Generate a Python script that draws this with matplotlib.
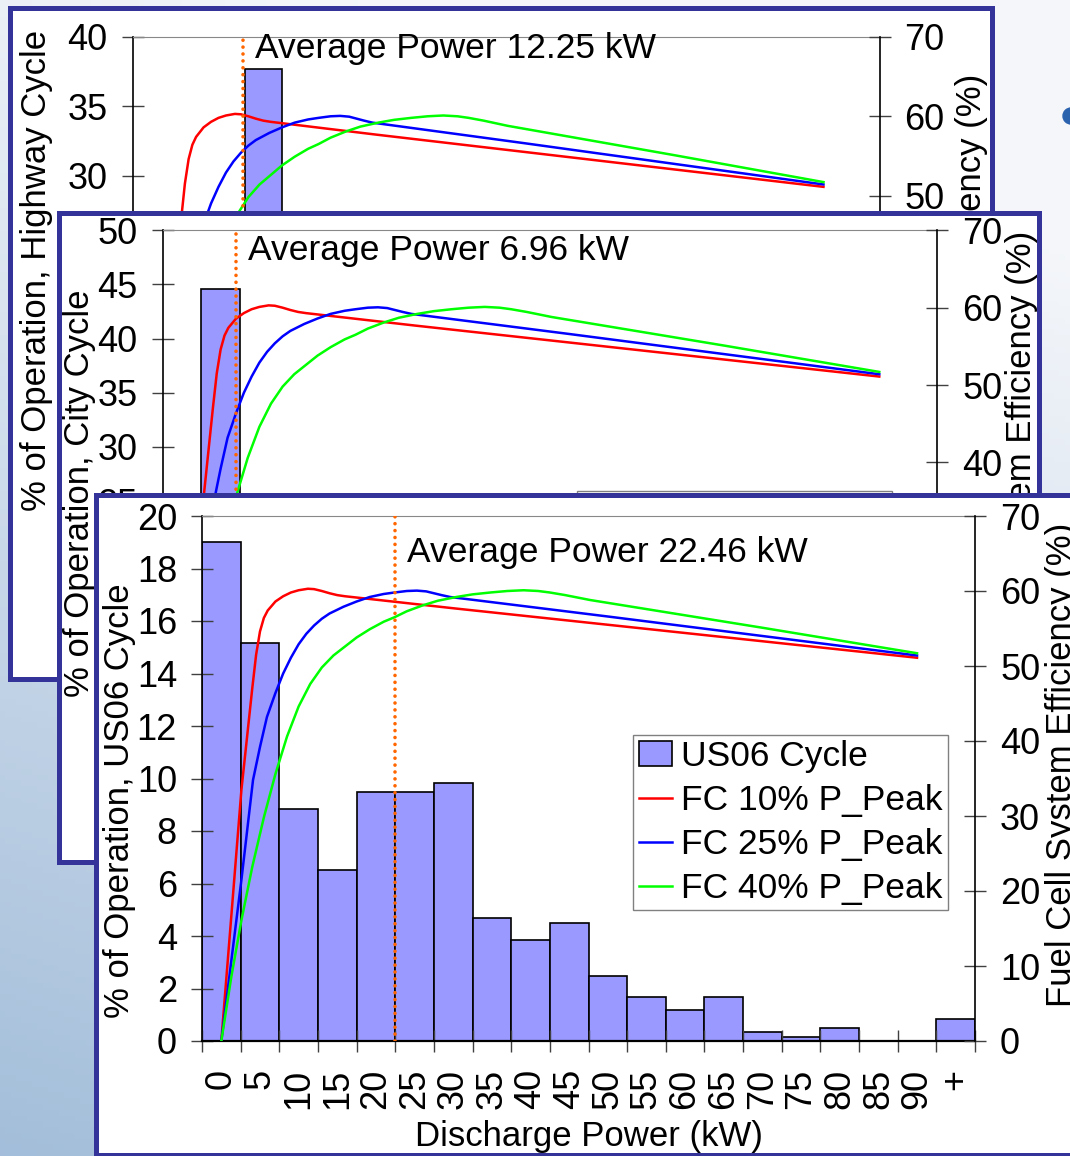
import matplotlib.pyplot as plt
import numpy as np
from matplotlib.patches import Circle
from matplotlib.ticker import NullFormatter

W, H = 1070, 1156
plt.rcParams['font.family'] = ['Liberation Sans', 'DejaVu Sans']

# discharge power bins (kW), last one is "above 90"
bin_labels = ['0', '5', '10', '15', '20', '25', '30', '35', '40', '45',
              '50', '55', '60', '65', '70', '75', '80', '85', '90', '+']
bin_kw = [0, 5, 10, 15, 20, 25, 30, 35, 40, 45,
          50, 55, 60, 65, 70, 75, 80, 85, 90, 95]

# % of operation in each bin
us06_pct = [19.0, 15.15, 8.84, 6.51, 9.50, 9.50, 9.83, 4.68, 3.83, 4.49,
            2.49, 1.67, 1.17, 1.67, 0.33, 0.17, 0.50, 0.0, 0.0, 0.83]
# only the tall bar shows, the rest is behind the next slide panel (rough guesses)
city_pct = [22.0, 44.6, 13.0, 8.0, 4.5, 2.5, 1.5, 0.8, 0.5, 0.3,
            0.2, 0.1, 0.0, 0.0, 0.0, 0.0, 0.0, 0.0, 0.0, 0.0]
highway_pct = [4.0, 7.5, 21.0, 37.7, 17.5, 7.0, 3.0, 1.5, 0.8, 0.0,
               0.0, 0.0, 0.0, 0.0, 0.0, 0.0, 0.0, 0.0, 0.0, 0.0]

highway_avg_kw = 12.25
city_avg_kw = 6.96
us06_avg_kw = 22.46

# fuel cell system efficiency (%) vs power (kW)
fc10_kw = [0, 2.6, 4.0, 4.5, 5.0, 5.5, 6.0, 7.0, 8.0, 9.0, 10.0, 11.2, 12.0, 13.0, 14.0, 15.0, 16.0,
           30, 50, 70, 90]
fc10_eff = [0, 33.5, 47.0, 51.5, 54.6, 56.4, 57.4, 58.6, 59.3, 59.8, 60.1, 60.3, 60.25, 60.0, 59.7,
            59.45, 59.3, 57.7, 55.5, 53.3, 51.1]
fc25_kw = [0, 2.6, 4.1, 5.0, 5.9, 7.0, 8.0, 9.0, 10.0, 11.0, 12.0, 13.0, 14.0, 15.8, 17.5, 19.2,
           21.0, 22.4, 24.0, 25.3, 26.5, 27.5, 28.5, 29.6, 50, 70, 90]
fc25_eff = [0, 21.5, 34.8, 39.2, 43.2, 46.4, 49.0, 51.1, 52.9, 54.3, 55.4, 56.3, 57.0, 57.9, 58.6, 59.2,
            59.6, 59.8, 60.0, 60.05, 59.95, 59.7, 59.45, 59.2, 56.6, 54.0, 51.4]
fc40_kw = [0, 1.3, 2.6, 4.0, 5.5, 7.0, 8.5, 10.0, 11.5, 13.0, 14.5, 16.0, 17.5, 19.2, 21.0, 22.4,
           24.0, 26.1, 28.0, 30.4, 32.5, 34.8, 37.0, 39.1, 41.0, 42.5, 44.5, 47.7, 70, 90]
fc40_eff = [0, 8.6, 16.1, 23.2, 29.8, 35.6, 40.6, 44.6, 47.6, 49.8, 51.4, 52.6, 53.8, 54.9, 55.9, 56.5,
            57.3, 58.1, 58.7, 59.2, 59.55, 59.8, 60.0, 60.1, 60.0, 59.8, 59.45, 58.8, 55.1, 51.7]

curves = [(fc10_kw, fc10_eff, '#ff0000', 'FC 10% P_Peak'),
          (fc25_kw, fc25_eff, '#0000ff', 'FC 25% P_Peak'),
          (fc40_kw, fc40_eff, '#00ff00', 'FC 40% P_Peak')]

BORDER = '#333399'
BAR = '#9999ff'
ORANGE = '#ff6600'
TICK = '#404040'

fig = plt.figure(figsize=(W / 100, H / 100), dpi=100)


def px(l, t, r, b):
    return [l / W, 1 - b / H, (r - l) / W, (b - t) / H]


# slide background
bg = fig.add_axes([0, 0, 1, 1], zorder=0)
yy, xx = np.mgrid[0:1:200j, 0:1:200j]
t = np.clip(0.9 * yy + 0.3 * (1 - xx) - 0.2, 0, 1)[..., None]
c_top = np.array([0.957, 0.965, 0.98])
c_bot = np.array([0.64, 0.745, 0.855])
bg.imshow(c_top + t * (c_bot - c_top), extent=(0, W, H, 0), aspect='auto')
bg.add_patch(Circle((1071, 116), 8, color='#2b62ae'))
bg.set_xlim(0, W)
bg.set_ylim(H, 0)
bg.axis('off')


def panel(z, frame_box, ax_box, pct, cycle, avg_kw, ymax, ystep,
          text_y, leg_xy, left_lab, right_lab):
    fr = fig.add_axes(px(*frame_box), zorder=z)
    fr.set_xticks([])
    fr.set_yticks([])
    for s in fr.spines.values():
        s.set_color(BORDER)
        s.set_linewidth(3.6)
    for (x, y), s in zip((left_lab, right_lab),
                         ('% of Operation, ' + cycle, 'Fuel Cell System Efficiency (%)')):
        fr.text(x / W, 1 - y / H, s, transform=fig.transFigure, rotation=90,
                ha='center', va='center', fontsize=25, clip_on=True, zorder=1)

    ax = fig.add_axes(px(*ax_box), zorder=z + 1)
    ax.patch.set_visible(False)
    ax.bar(bin_kw, pct, width=5, color=BAR, edgecolor='black', linewidth=1.2, label=cycle)
    ax.set_xlim(-2.5, 97.5)
    ax.set_ylim(0, ymax)
    ax.set_yticks(np.arange(0, ymax + 1, ystep))
    ax.set_xticks(np.arange(-2.5, 100, 5))
    ax.xaxis.set_major_formatter(NullFormatter())
    ax.set_xticks(bin_kw, bin_labels, minor=True, rotation=90)
    ax.tick_params(which='major', direction='inout', length=16, width=1,
                   color=TICK, labelsize=26, pad=10)
    ax.tick_params(axis='x', which='minor', length=0, pad=20, labelsize=26)
    ax.set_xlabel('Discharge Power (kW)', fontsize=25, va='top')
    ax.xaxis.set_label_coords(0.5, -79 / (ax_box[3] - ax_box[1]))
    ax.spines['top'].set_color('#888888')
    ax.spines['right'].set_visible(False)
    ax.spines['bottom'].set_linewidth(1.6)
    ax.spines['left'].set_linewidth(1.2)

    ax2 = ax.twinx()
    ax2.set_zorder(z + 2)
    for kw, eff, col, lab in curves:
        ax2.plot(kw, eff, color=col, lw=1.8, label=lab)
    ax2.set_ylim(0, 70)
    ax2.set_yticks(range(0, 71, 10))
    ax2.tick_params(direction='inout', length=16, width=1, color=TICK, labelsize=26, pad=10)
    for side in ('top', 'left', 'bottom'):
        ax2.spines[side].set_visible(False)
    ax2.spines['right'].set_linewidth(1.2)
    ax2.axvline(avg_kw, color=ORANGE, ls=(0, (0.01, 1.9)), lw=2.6, dash_capstyle='round')
    ax2.annotate(f'Average Power {avg_kw:.2f} kW', xy=(avg_kw, text_y),
                 xycoords=('data', 'axes fraction'), xytext=(9, 0),
                 textcoords='offset points', fontsize=25.5, va='baseline')
    h1, l1 = ax.get_legend_handles_labels()
    h2, l2 = ax2.get_legend_handles_labels()
    ax2.legend(h1 + h2, l1 + l2, loc='upper right', bbox_to_anchor=leg_xy,
               borderaxespad=0, fontsize=25.5, fancybox=False, edgecolor='#808080',
               framealpha=1, borderpad=0.15, labelspacing=0.31,
               handlelength=0.95, handletextpad=0.25)


panel(10, (10, 7.5, 992, 679), (132.6, 37, 879.5, 592), highway_pct, 'Highway Cycle',
      highway_avg_kw, 40, 5, 0.962, (0.95, 0.55), (37, 270), (972, 316))
panel(20, (59, 213, 1039, 861.5), (162.5, 230.3, 937.4, 772), city_pct, 'City Cycle',
      city_avg_kw, 50, 5, 0.945, (0.941, 0.519), (80, 493), (1022, 473))
panel(30, (96, 495, 1120, 1155), (202, 516, 975, 1041), us06_pct, 'US06 Cycle',
      us06_avg_kw, 20, 2, 0.913, (0.965, 0.583), (119, 801), (1062, 765))

fig.savefig('out.png', dpi=100)
